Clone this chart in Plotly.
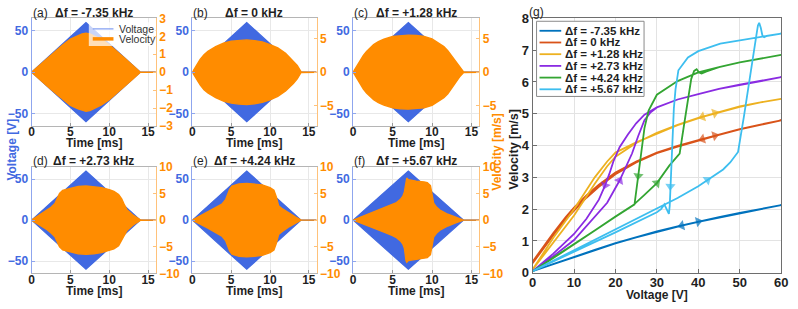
import plotly.graph_objects as go

W, H = 798, 309
FONT = "Liberation Sans, Arial, Helvetica, sans-serif"
BLUE = "#4169E1"
ORANGE = "#FF8C00"
TXT = "#1f1f1f"

# ---------------- data: panels (a)-(f) ----------------
PANEL_LETTERS = ["a", "b", "c", "d", "e", "f"]
PANEL_DF = ["-7.35", "0", "+1.28", "+2.73", "+4.24", "+5.67"]

TIME_TICKS = [0, 5, 10, 15]
VOLT_TICKS = [-50, 0, 50]

# voltage envelope (triangular drive), same in all panels
VOLT_T = [0, 7, 14, 16]
VOLT_AMP = [0, 60, 0, 0]

# velocity envelopes
VEL_T_A = [0, 1, 2, 3, 4, 5, 6, 6.5, 7, 7.5, 8, 9, 10, 11, 12, 13, 14, 16]
VEL_A = [0, 0.38, 0.77, 1.15, 1.52, 1.85, 2.05, 2.13, 2.18, 2.14, 2.03, 1.83, 1.53, 1.17, 0.78, 0.39, 0.0, 0.0]

VEL_T_B = [0, 0.5, 1, 1.5, 2, 3, 4, 5, 6, 7, 8, 9, 10, 11, 12, 13, 13.5, 14, 16]
VEL_B = [0, 1.0, 1.9, 2.6, 3.1, 3.8, 4.3, 4.6, 4.75, 4.8, 4.7, 4.5, 4.1, 3.6, 2.8, 1.7, 1.0, 0.05, 0]

VEL_T_C = [0, 0.5, 0.9, 1.3, 1.7, 2.1, 2.6, 3.2, 3.9, 5, 6, 7, 8, 9, 10, 10.5, 11, 11.5, 12, 12.5, 13, 13.5, 14, 16]
VEL_C = [0, 1.0, 1.75, 2.5, 3.1, 3.6, 4.1, 4.55, 4.9, 5.3, 5.45, 5.5, 5.45, 5.3, 4.95, 4.6, 4.2, 3.8, 3.2, 2.4, 1.5, 0.7, 0.05, 0]

VEL_T_D = [0, 1, 2, 2.5, 3, 3.3, 3.6, 4, 5, 6, 7, 8, 9, 10, 10.6, 11.2, 11.6, 11.9, 12.3, 13, 13.5, 14, 16]
VEL_D = [0, 0.9, 1.8, 2.4, 3.1, 4.0, 5.0, 5.6, 6.0, 6.3, 6.4, 6.3, 6.1, 5.7, 5.4, 4.8, 4.0, 3.0, 1.9, 1.0, 0.5, 0.05, 0]

VEL_T_E = [0, 1, 2, 3, 3.8, 4.3, 4.6, 4.8, 5.1, 6, 7, 8, 9, 10, 10.5, 10.8, 11.1, 11.5, 12.5, 13.3, 14, 16]
VEL_E = [0, 0.75, 1.5, 2.3, 3.0, 3.9, 4.9, 5.8, 6.4, 6.8, 6.9, 6.8, 6.6, 6.1, 5.6, 4.4, 2.7, 2.2, 1.2, 0.55, 0, 0]

VEL_T_F = [0, 1, 2, 3, 4, 5, 5.5, 6, 6.3, 6.5, 6.6, 6.7, 6.8, 7, 8, 9, 9.4, 9.8, 10, 10.2, 10.6, 11, 12, 13, 14, 16]
VEL_F = [0, 0.6, 1.2, 1.7, 2.3, 2.9, 3.3, 3.9, 4.5, 5.3, 6.4, 7.6, 7.9, 7.6, 7.3, 7.15, 7.05, 6.5, 5.0, 3.2, 2.4, 1.9, 1.1, 0.5, 0, 0]

VEL_RANGE = [3, 8, 8, 10, 10, 10]
VEL_TICKS = [[-3, -2, -1, 0, 1, 2, 3], [-5, 0, 5], [-5, 0, 5],
             [-10, -5, 0, 5, 10], [-10, -5, 0, 5, 10], [-10, -5, 0, 5, 10]]

# ---------------- data: panel (g) ----------------
G_LABELS = ["Δf = -7.35 kHz", "Δf = 0 kHz", "Δf = +1.28 kHz",
            "Δf = +2.73 kHz", "Δf = +4.24 kHz", "Δf = +5.67 kHz"]
G_COLORS = ["#0072BD", "#D95319", "#EDB120", "#8A2BE2", "#33A532", "#3DBEEF"]

G_UP_V = [
    [0, 5, 10, 15, 20, 25, 30, 35, 40, 45, 50, 55, 60],
    [0, 2, 5, 8, 10, 13, 16, 20, 25, 30, 35, 40, 44, 50, 55, 60],
    [0, 5, 10, 15, 18, 20, 25, 30, 35, 40, 44, 50, 55, 60],
    [0, 5, 10, 15, 18, 21, 22.5, 24, 25.5, 27, 28.5, 30, 35, 40, 45, 50, 55, 60],
    [0, 5, 10, 15, 20, 24.5, 27, 30, 33, 35.5, 36.5, 37.5, 38.3, 39, 39.6, 40.2, 40.8, 42, 45, 50, 55, 60],
    [0, 10, 20, 30, 32, 35, 40, 42.2, 46, 47.7, 49.6, 51, 52, 53, 54, 54.4, 54.7, 55.1, 55.5, 55.9, 56.5, 58, 60],
]
G_UP_VEL = [
    [0.05, 0.28, 0.5, 0.72, 0.93, 1.12, 1.3, 1.46, 1.61, 1.75, 1.88, 2.01, 2.13],
    [0.35, 0.72, 1.25, 1.75, 2.05, 2.43, 2.77, 3.15, 3.5, 3.78, 3.99, 4.17, 4.31, 4.52, 4.66, 4.79],
    [0.1, 0.95, 1.8, 2.8, 3.35, 3.65, 4.08, 4.4, 4.65, 4.87, 5.02, 5.23, 5.36, 5.47],
    [0.05, 0.52, 1.03, 1.75, 2.2, 2.9, 3.35, 3.75, 4.3, 4.8, 5.05, 5.2, 5.45, 5.62, 5.78, 5.92, 6.04, 6.15],
    [0.05, 0.47, 0.9, 1.33, 1.77, 2.15, 2.45, 2.82, 3.37, 3.75, 4.6, 5.5, 6.1, 6.35, 6.4, 6.3, 6.27, 6.33, 6.47, 6.62, 6.74, 6.85],
    [0.05, 0.7, 1.37, 2.02, 2.13, 2.35, 2.72, 2.92, 3.25, 3.47, 3.8, 4.9, 5.8, 6.6, 7.45, 7.78, 7.86, 7.7, 7.45, 7.41, 7.45, 7.48, 7.52],
]
G_DN_V = [
    [60, 55, 50, 45, 40, 36, 30, 25, 20, 15, 10, 5, 0],
    [60, 55, 50, 45, 41, 35, 30, 25, 20, 16, 13, 10, 8, 5, 2, 0],
    [60, 55, 50, 45, 41, 35, 30, 25, 20, 18, 15, 10, 5, 0],
    [60, 55, 50, 45, 40, 35, 30, 27, 25, 23, 21, 19.5, 18.5, 17.5, 16, 13, 10, 5, 0],
    [60, 55, 50, 45, 40, 35, 30, 28, 27, 26.2, 25.5, 24.6, 20, 15, 10, 5, 0],
    [60, 58, 55, 50, 45.3, 40, 37.5, 35.2, 34.5, 34.1, 33.7, 33.4, 33.25, 33.1, 32.9, 32.4, 31.8, 31, 30, 20, 10, 0],
]
G_DN_VEL = [
    [2.13, 2.0, 1.87, 1.74, 1.6, 1.48, 1.29, 1.11, 0.92, 0.71, 0.49, 0.27, 0.05],
    [4.79, 4.66, 4.51, 4.34, 4.2, 3.97, 3.76, 3.47, 3.1, 2.7, 2.36, 1.97, 1.68, 1.18, 0.66, 0.3],
    [5.47, 5.36, 5.22, 5.05, 4.9, 4.64, 4.38, 4.1, 3.78, 3.5, 3.0, 2.0, 1.1, 0.1],
    [6.15, 6.04, 5.92, 5.78, 5.62, 5.45, 5.2, 4.97, 4.7, 4.35, 3.95, 3.5, 3.1, 2.75, 2.3, 1.7, 1.22, 0.6, 0.05],
    [6.85, 6.74, 6.62, 6.47, 6.3, 6.03, 5.6, 5.1, 4.55, 3.75, 3.05, 2.15, 1.76, 1.32, 0.89, 0.46, 0.05],
    [7.52, 7.48, 7.42, 7.32, 7.21, 6.97, 6.77, 6.37, 5.77, 5.17, 3.72, 3.1, 2.72, 2.1, 1.85, 2.0, 2.15, 2.0, 1.9, 1.27, 0.65, 0.05],
]
# voltage at which a direction arrow sits on the up / down branch
G_ARROW_UP = [40, 44, 44, 21, 30, 42.2]
G_ARROW_DN = [36, 41, 41, 17.5, 25.5, 33.25]

G_XTICKS = [0, 10, 20, 30, 40, 50, 60]
G_YTICKS = [0, 1, 2, 3, 4, 5, 6, 7, 8]

# ---------------- layout geometry (pixels) ----------------
PANEL_BOX = [((28, 154), (12, 125)), ((191, 317), (12, 125)), ((354, 482), (12, 125)),
             ((28, 154), (168, 280)), ((191, 317), (168, 280)), ((354, 482), (168, 280))]
G_BOX = ((536, 788), (12, 279.3))


def fx(p):
    return p / W


def fy(p):
    return 1 - p / H


fig = go.Figure()
layout = dict(width=W, height=H, margin=dict(l=0, r=0, t=0, b=0),
              paper_bgcolor="white", plot_bgcolor="white", showlegend=False,
              font=dict(family=FONT, color=TXT))
annotations = []
shapes = []

vel_sets = [(VEL_T_A, VEL_A), (VEL_T_B, VEL_B), (VEL_T_C, VEL_C),
            (VEL_T_D, VEL_D), (VEL_T_E, VEL_E), (VEL_T_F, VEL_F)]

tick_font = dict(family=FONT, size=12, weight="bold")

for k in range(6):
    xi = k + 1
    yl_i, yr_i = 2 * k + 1, 2 * k + 2
    xa = "x" if xi == 1 else f"x{xi}"
    yl = "y" if yl_i == 1 else f"y{yl_i}"
    yr = f"y{yr_i}"
    vx = VOLT_T + VOLT_T[::-1]
    vy = VOLT_AMP + [-a for a in VOLT_AMP[::-1]]
    fig.add_trace(go.Scatter(x=vx, y=vy, xaxis=xa, yaxis=yl, mode="lines",
                             fill="toself", fillcolor=BLUE,
                             line=dict(color=BLUE, width=1.2), hoverinfo="skip"))
    t, a = vel_sets[k]
    fig.add_trace(go.Scatter(x=t + t[::-1], y=a + [-v for v in a[::-1]],
                             xaxis=xa, yaxis=yr, mode="lines",
                             fill="toself", fillcolor=ORANGE,
                             line=dict(color=ORANGE, width=1.4), hoverinfo="skip"))
    (x0, x1), (y0, y1) = PANEL_BOX[k]
    xkey = "xaxis" if xi == 1 else f"xaxis{xi}"
    ylkey = "yaxis" if yl_i == 1 else f"yaxis{yl_i}"
    yrkey = f"yaxis{yr_i}"
    layout[xkey] = dict(domain=[fx(x0), fx(x1)], anchor=yl, range=[0, 16],
                        tickvals=TIME_TICKS, showline=True, mirror=True,
                        linecolor="#b5b5b5", linewidth=1, ticks="inside", ticklen=3,
                        tickcolor="#999999", showgrid=True, gridcolor="#e8e8e8",
                        zeroline=False, ticklabelstandoff=-5,
                        tickfont=dict(tick_font, color=TXT))
    layout[ylkey] = dict(domain=[fy(y1), fy(y0)], anchor=xa, range=[-65, 65],
                         tickvals=VOLT_TICKS, showline=True, linecolor="#8fa6ee",
                         ticks="inside", ticklen=3, tickcolor="#8fa6ee",
                         showgrid=True, gridcolor="#e8e8e8", zeroline=False,
                         tickfont=dict(tick_font, color=BLUE))
    R = VEL_RANGE[k]
    layout[yrkey] = dict(overlaying=yl, side="right", anchor=xa, range=[-R, R],
                         tickvals=VEL_TICKS[k], showline=True, linecolor="#ffc27a",
                         ticks="inside", ticklen=3, tickcolor="#ffc27a",
                         showgrid=False, zeroline=False,
                         tickfont=dict(tick_font, color=ORANGE))
    # panel titles
    ty = y0 - 6
    annotations.append(dict(x=fx(x0 - 1), y=fy(ty), xref="paper", yref="paper",
                            text=f"({PANEL_LETTERS[k]})", showarrow=False,
                            xanchor="left", yanchor="middle",
                            font=dict(family=FONT, size=12, color=TXT)))
    annotations.append(dict(x=fx((x0 + x1) / 2), y=fy(ty), xref="paper", yref="paper",
                            text=f"<b>Δf = {PANEL_DF[k]} kHz</b>", showarrow=False,
                            xanchor="center", yanchor="middle",
                            font=dict(family=FONT, size=12, color=TXT)))
    annotations.append(dict(x=fx((x0 + x1) / 2), y=fy(y1 + 18), xref="paper", yref="paper",
                            text="<b>Time [ms]</b>", showarrow=False,
                            xanchor="center", yanchor="middle",
                            font=dict(family=FONT, size=12, color=TXT)))

# ---------------- panel (g) ----------------
for s in range(6):
    xs = G_UP_V[s] + G_DN_V[s]
    ys = G_UP_VEL[s] + G_DN_VEL[s]
    sizes = [0] * len(xs)
    sizes[G_UP_V[s].index(G_ARROW_UP[s])] = 9
    sizes[len(G_UP_V[s]) + G_DN_V[s].index(G_ARROW_DN[s])] = 9
    fig.add_trace(go.Scatter(x=xs, y=ys, xaxis="x7", yaxis="y13", mode="lines+markers",
                             line=dict(color=G_COLORS[s], width=1.8),
                             marker=dict(symbol="triangle-up", size=sizes, angleref="previous",
                                         color=G_COLORS[s], line=dict(width=0)),
                             name=G_LABELS[s], hoverinfo="skip"))

(gx0, gx1), (gy0, gy1) = G_BOX
layout["xaxis7"] = dict(domain=[fx(gx0), fx(gx1)], anchor="y13", range=[0, 60],
                        tickvals=G_XTICKS, showline=True, mirror=True, linecolor="#6e6e6e",
                        ticks="inside", ticklen=4, tickcolor="#6e6e6e",
                        showgrid=True, gridcolor="#e3e3e3", zeroline=False,
                        ticklabeloverflow="allow", ticklabelstandoff=-2,
                        tickfont=dict(family=FONT, size=13, weight="bold", color=TXT))
layout["yaxis13"] = dict(domain=[fy(gy1), fy(gy0)], anchor="x7", range=[0, 8],
                         tickvals=G_YTICKS, showline=True, mirror=True, linecolor="#6e6e6e",
                         ticks="inside", ticklen=4, tickcolor="#6e6e6e",
                         showgrid=True, gridcolor="#e3e3e3", zeroline=False,
                         tickfont=dict(family=FONT, size=13, weight="bold", color=TXT))

annotations.append(dict(x=fx(540), y=fy(5), xref="paper", yref="paper", text="(g)",
                        showarrow=False, xanchor="center", yanchor="middle",
                        font=dict(family=FONT, size=12, color=TXT)))
annotations.append(dict(x=fx((gx0 + gx1) / 2), y=fy(302.5), xref="paper", yref="paper",
                        text="<b>Voltage [V]</b>", showarrow=False, xanchor="center",
                        yanchor="middle", font=dict(family=FONT, size=12, color=TXT)))
annotations.append(dict(x=fx(517), y=fy(149), xref="paper", yref="paper",
                        text="<b>Velocity [m/s]</b>", showarrow=False, textangle=-90,
                        xanchor="center", yanchor="middle",
                        font=dict(family=FONT, size=12.5, color=TXT)))
# shared axis titles of panels (a)-(f)
annotations.append(dict(x=fx(8), y=fy(150), xref="paper", yref="paper",
                        text="<b>Voltage [V]</b>", showarrow=False, textangle=-90,
                        xanchor="center", yanchor="middle",
                        font=dict(family=FONT, size=12, color=BLUE)))
annotations.append(dict(x=fx(499), y=fy(153), xref="paper", yref="paper",
                        text="<b>Velocity [m/s]</b>", showarrow=False, textangle=-90,
                        xanchor="center", yanchor="middle",
                        font=dict(family=FONT, size=12, color=ORANGE)))

# legend of panel (g)
shapes.append(dict(type="rect", xref="paper", yref="paper", x0=fx(540), x1=fx(649),
                   y0=fy(94), y1=fy(15), fillcolor="white", line=dict(color="#8a8a8a", width=1),
                   layer="above"))
for s in range(6):
    yy = 25 + 12.3 * s
    shapes.append(dict(type="line", xref="paper", yref="paper", x0=fx(543), x1=fx(565),
                       y0=fy(yy), y1=fy(yy), line=dict(color=G_COLORS[s], width=1.8),
                       layer="above"))
    annotations.append(dict(x=fx(567), y=fy(yy), xref="paper", yref="paper",
                            text=f"<b>{G_LABELS[s]}</b>", showarrow=False,
                            xanchor="left", yanchor="middle",
                            font=dict(family=FONT, size=11.5, color=TXT)))

# legend of panel (a)
shapes.append(dict(type="rect", xref="paper", yref="paper", x0=fx(86), x1=fx(153),
                   y0=fy(41), y1=fy(16), fillcolor="rgba(255,255,255,0.72)",
                   line=dict(width=0), layer="above"))
LEG_A = [("Voltage", "#7f9cf2", 1.2, 23), ("Velocity", ORANGE, 3.5, 33.5)]
for name, col, wdt, yy in LEG_A:
    shapes.append(dict(type="line", xref="paper", yref="paper", x0=fx(90), x1=fx(111),
                       y0=fy(yy), y1=fy(yy), line=dict(color=col, width=wdt), layer="above"))
    annotations.append(dict(x=fx(115), y=fy(yy), xref="paper", yref="paper", text=name,
                            showarrow=False, xanchor="left", yanchor="middle",
                            font=dict(family=FONT, size=10.5, color="#333333")))

layout["annotations"] = annotations
layout["shapes"] = shapes
fig.update_layout(**layout)
fig.write_html("out.html")
